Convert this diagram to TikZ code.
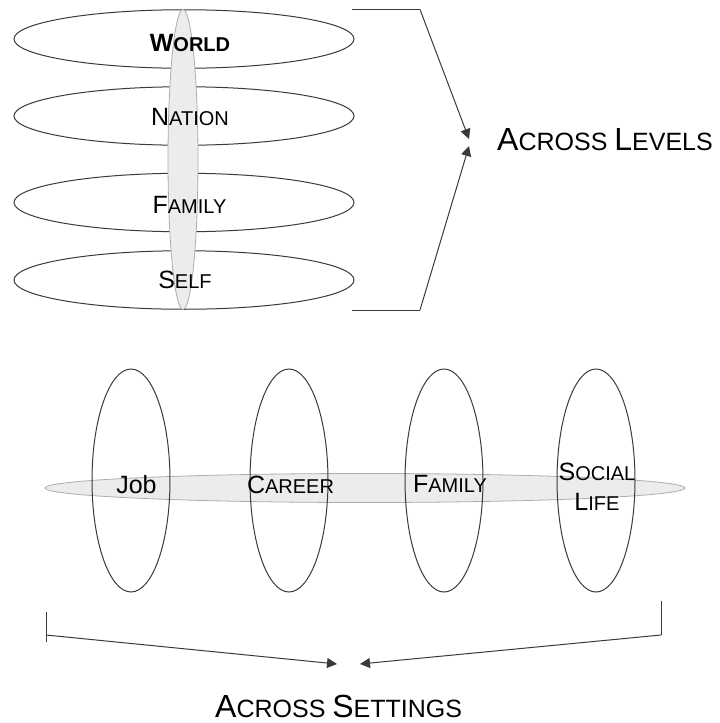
\documentclass[tikz,border=0pt]{standalone}
\usepackage{fontspec}
\setmainfont{Liberation Sans}
\usetikzlibrary{shapes.geometric,arrows.meta}
\newcommand\capA[2]{{\fontsize{25}{25}\selectfont #1}{\fontsize{20}{20}\selectfont #2}}
\newcommand\capB[2]{{\fontsize{32}{32}\selectfont #1}{\fontsize{25}{25}\selectfont #2}}
\definecolor{edge}{HTML}{3A3A3A}
\definecolor{greyfill}{HTML}{ECECEC}
\definecolor{greyedge}{HTML}{ADADAD}
\begin{document}
\begin{tikzpicture}[x=1pt,y=-1pt,
  lvl/.style={ellipse,draw=edge,line width=1pt,minimum width=340pt,minimum height=58.5pt,inner sep=0pt},
  setg/.style={ellipse,draw=edge,line width=1pt,minimum width=78pt,minimum height=223pt,inner sep=0pt},
  axisv/.style={ellipse,draw=greyedge,fill=greyfill,line width=0.8pt,minimum width=30pt,minimum height=300pt,inner sep=0pt},
  axish/.style={ellipse,draw=greyedge,fill=greyfill,line width=0.8pt,minimum width=640pt,minimum height=29pt,inner sep=0pt},
  lbl/.style={inner sep=0pt,anchor=base,font=\fontsize{20}{20}\selectfont,text=black},
  big/.style={inner sep=0pt,anchor=base west,font=\fontsize{25}{25}\selectfont,text=black},
  conn/.style={draw=edge,line width=1pt,-{Triangle[length=10pt,width=10pt]}},
  plain/.style={draw=edge,line width=1pt}]
\useasboundingbox (0,0) rectangle (720,723);
% ---- across levels ----
\node[lvl] (world) at (184,39) {};
\node[lvl] (nation) at (184,116) {};
\node[lvl] (family) at (184,202.5) {};
\node[lvl] (self) at (184,280) {};
\node[axisv] (lvaxis) at (183,159.5) {};
\node[lbl] (tworld) at (190,51) {\bfseries\capA{W}{ORLD}};
\node[lbl] (tnation) at (190,125) {\capA{N}{ATION}};
\node[lbl] (tfamily) at (189.5,213) {\capA{F}{AMILY}};
\node[lbl] (tself) at (185,288) {\capA{S}{ELF}};
\coordinate (lt1) at (352,9.5);
\coordinate (lt2) at (420,9.5);
\coordinate (ltip) at (469,139);
\coordinate (lb1) at (352,310);
\coordinate (lb2) at (420,310);
\coordinate (lbtip) at (469,146);
\draw[plain] (lt1) -- (lt2);
\draw[conn] (lt2) -- (ltip);
\draw[plain] (lb1) -- (lb2);
\draw[conn] (lb2) -- (lbtip);
\node[big] (levels) at (497,150) {\capB{A}{CROSS} \capB{L}{EVELS}};
% ---- across settings ----
\node[axish] (staxis) at (365,488) {};
\node[setg] (job) at (131,480.5) {};
\node[setg] (career) at (289,480.5) {};
\node[setg] (sfamily) at (444,480.5) {};
\node[setg] (social) at (596,480.5) {};
\node[lbl,font=\fontsize{25}{25}\selectfont] (tjob) at (136.5,493) {Job};
\node[lbl] (tcareer) at (290.5,493) {\capA{C}{AREER}};
\node[lbl] (tsfamily) at (450,492) {\capA{F}{AMILY}};
\node[lbl] (tsocial) at (597,480) {\capA{S}{OCIAL}};
\node[lbl] (tlife) at (597,510) {\capA{L}{IFE}};
\coordinate (sl1) at (46,612);
\coordinate (sl2) at (46,642);
\coordinate (sl3) at (46,635);
\coordinate (sltip) at (337,664);
\coordinate (sr1) at (661,601);
\coordinate (sr2) at (661,635);
\coordinate (srtip) at (360,664);
\draw[plain] (sl1) -- (sl2);
\draw[conn] (sl3) -- (sltip);
\draw[plain] (sr1) -- (sr2);
\draw[conn] (sr2) -- (srtip);
\node[big] (settings) at (215,717) {\capB{A}{CROSS} \capB{S}{ETTINGS}};
\end{tikzpicture}
\end{document}
